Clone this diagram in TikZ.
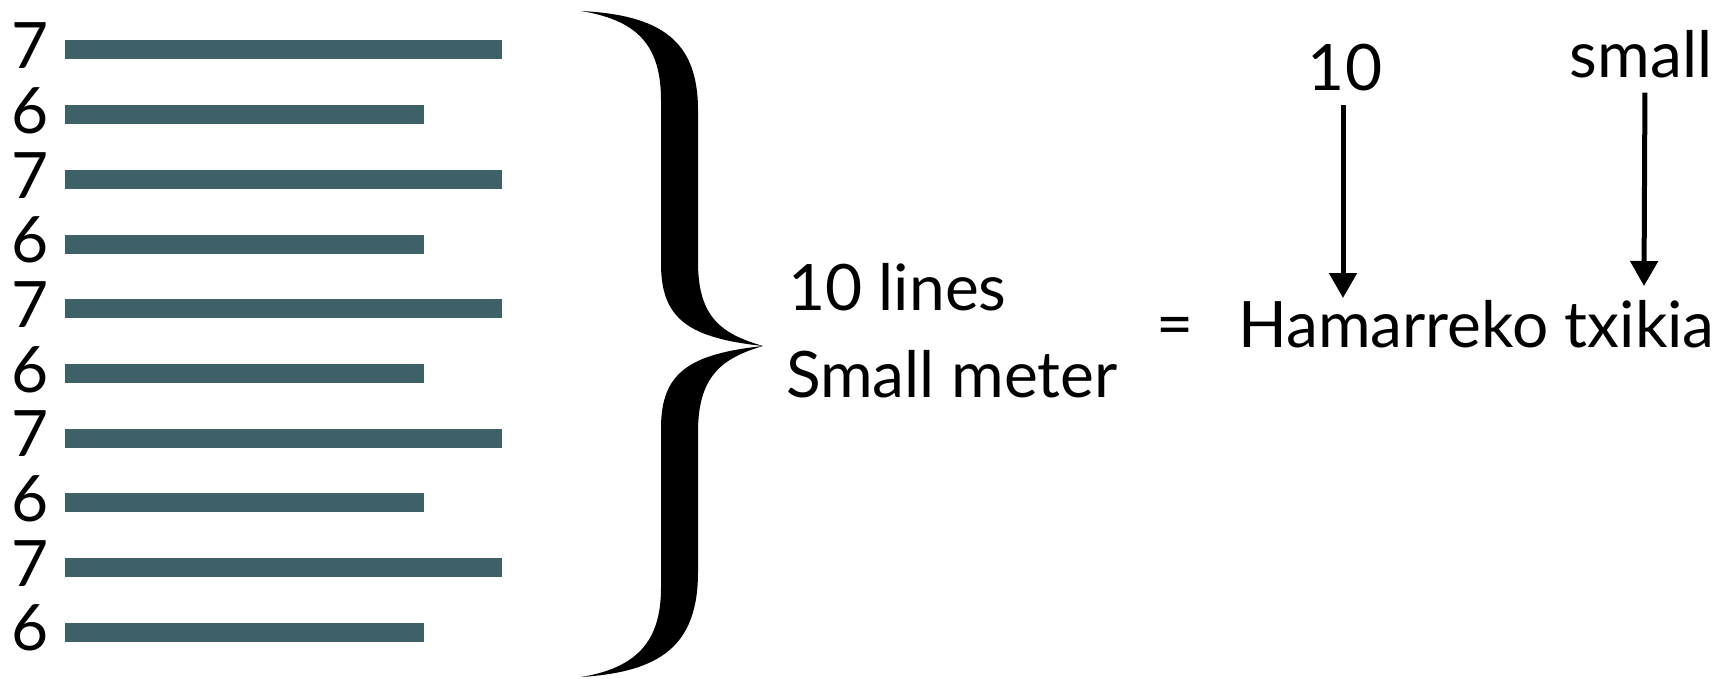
\documentclass[tikz,border=0pt]{standalone}
\usepackage{fontspec}
\setmainfont{Lato}
\usepackage{tikz}
\usetikzlibrary{arrows.meta}
\definecolor{MeterBar}{HTML}{3D6166}
\tikzset{
  lbl/.style={inner sep=0pt,font=\fontsize{64}{72}\selectfont},
  bar/.style={MeterBar,line width=19pt},
  arr/.style={-{Triangle[width=27pt,length=25pt]},line width=5pt},
}

\begin{document}
\begin{tikzpicture}[x=1pt,y=-1pt]
\path[use as bounding box] (0,0) rectangle (1719,679);
% syllable counts and their lines
\foreach \k/\syl/\xend in {0/7/502,1/6/424,2/7/502,3/6/424,4/7/502,5/6/424,6/7/502,7/6/424,8/7/502,9/6/424}{
  \pgfmathsetmacro\yy{50+64.67*\k}
  \node[lbl,anchor=east] (syl\k) at (49,\yy-4) {\syl};
  \draw[bar] (65,\yy) -- (\xend,\yy);
}
% brace
\fill[black] (581,11) .. controls (660,15) and (698,40) .. (698,110)
  -- (698,262) .. controls (698,318) and (722,334) .. (763,346)
  .. controls (722,358) and (698,376) .. (698,432)
  -- (698,572) .. controls (698,646) and (660,672) .. (581,677)
  .. controls (636,668) and (661,642) .. (661,588)
  -- (661,428) .. controls (661,372) and (690,354) .. (763,346)
  .. controls (690,338) and (661,320) .. (661,264)
  -- (661,100) .. controls (661,44) and (636,20) .. (581,11) -- cycle;
\node[lbl,anchor=base west] (lines) at (788,310) {10 lines};
\node[lbl,anchor=base west] (meter) at (786,397) {Small meter};
\node[lbl] (eq) at (1175,332) {=};
\node[lbl,anchor=base west] (ham) at (1238,347) {Hamarreko txikia};
\node[lbl,anchor=base] (ten) at (1345,91) {10};
\node[lbl,anchor=base] (small) at (1641,78) {small};
\coordinate (tentip) at (1343,298);
\coordinate (smalltip) at (1644,286);
\draw[arr,shorten <=13pt] (ten.south -| tentip) -- (tentip);
\draw[arr,shorten <=14pt] ([xshift=4pt]small.south) -- (smalltip);
\end{tikzpicture}
\end{document}
